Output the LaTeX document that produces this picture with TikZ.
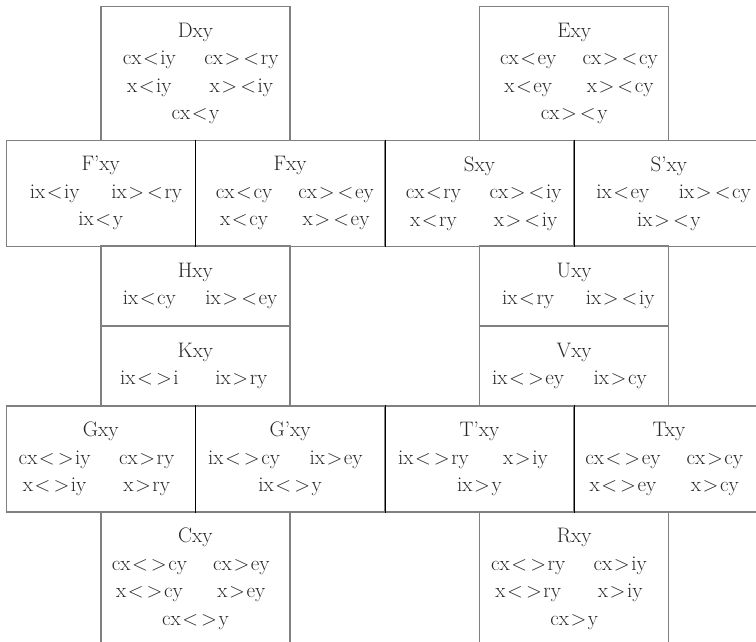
\documentclass[tikz,border=0pt]{standalone}
\usepackage{tikz}
\definecolor{rulegray}{RGB}{128,128,128}
\definecolor{inkcol}{RGB}{40,40,40}
\newcommand{\lsym}{\makebox[0.9em]{$<$}}
\newcommand{\gsym}{\makebox[0.9em]{$>$}}
\newcommand{\pairline}[2]{\makebox[92pt]{#1}\makebox[92pt]{#2}}
\tikzset{
  rel cell/.style={rectangle,draw=rulegray,line width=1.2pt,minimum width=189pt,inner sep=0pt,align=center,text=inkcol,font=\fontsize{21}{27.5}\selectfont},
  tall cell/.style={rel cell,minimum height=134pt},
  row cell/.style={rel cell,minimum height=106pt},
  half cell/.style={rel cell,minimum height=80pt},
  cell rule/.style={draw=black,line width=0.9pt}
}

\begin{document}
\begin{tikzpicture}[x=1pt,y=-1pt]
  \useasboundingbox (0,0) rectangle (756,641);
  % top pair
  \node[tall cell] (D) at (195.4,73.3) {Dxy\\ \pairline{cx\lsym iy}{cx\gsym\lsym ry}\\ \pairline{x\lsym iy}{x\gsym\lsym iy}\\ cx\lsym y};
  \node[tall cell] (E) at (574.2,73.3) {Exy\\ \pairline{cx\lsym ey}{cx\gsym\lsym cy}\\ \pairline{x\lsym ey}{x\gsym\lsym cy}\\ cx\gsym\lsym y};
  % first row
  \node[row cell] (Fp) at (100.7,193.3) {F'xy\\ \pairline{ix\lsym iy}{ix\gsym\lsym ry}\\ ix\lsym y};
  \node[row cell] (F) at (290.1,193.3) {Fxy\\ \pairline{cx\lsym cy}{cx\gsym\lsym ey}\\ \pairline{x\lsym cy}{x\gsym\lsym ey}};
  \node[row cell] (S) at (479.5,193.3) {Sxy\\ \pairline{cx\lsym ry}{cx\gsym\lsym iy}\\ \pairline{x\lsym ry}{x\gsym\lsym iy}};
  \node[row cell] (Sp) at (668.9,193.3) {S'xy\\ \pairline{ix\lsym ey}{ix\gsym\lsym cy}\\ ix\gsym\lsym y};
  % middle pairs
  \node[half cell] (H) at (195.4,286) {Hxy\\ \pairline{ix\lsym cy}{ix\gsym\lsym ey}};
  \node[half cell] (K) at (195.4,366) {Kxy\\ \pairline{ix\lsym\gsym i}{ix\gsym ry}};
  \node[half cell] (U) at (574.2,286) {Uxy\\ \pairline{ix\lsym ry}{ix\gsym\lsym iy}};
  \node[half cell] (V) at (574.2,366) {Vxy\\ \pairline{ix\lsym\gsym ey}{ix\gsym cy}};
  % second row
  \node[row cell] (G) at (100.7,459) {Gxy\\ \pairline{cx\lsym\gsym iy}{cx\gsym ry}\\ \pairline{x\lsym\gsym iy}{x\gsym ry}};
  \node[row cell] (Gp) at (290.1,459) {G'xy\\ \pairline{ix\lsym\gsym cy}{ix\gsym ey}\\ ix\lsym\gsym y};
  \node[row cell] (Tp) at (479.5,459) {T'xy\\ \pairline{ix\lsym\gsym ry}{x\gsym iy}\\ ix\gsym y};
  \node[row cell] (T) at (668.9,459) {Txy\\ \pairline{cx\lsym\gsym ey}{cx\gsym cy}\\ \pairline{x\lsym\gsym ey}{x\gsym cy}};
  % bottom pair
  \node[tall cell] (C) at (195.4,579) {Cxy\\ \pairline{cx\lsym\gsym cy}{cx\gsym ey}\\ \pairline{x\lsym\gsym cy}{x\gsym ey}\\ cx\lsym\gsym y};
  \node[tall cell] (R) at (574.2,579) {Rxy\\ \pairline{cx\lsym\gsym ry}{cx\gsym iy}\\ \pairline{x\lsym\gsym ry}{x\gsym iy}\\ cx\gsym y};
  % dark rules between row cells
  \foreach \c in {Fp,F,S,G,Gp,Tp}{\draw[cell rule] (\c.north east) -- (\c.south east);}
\end{tikzpicture}
\end{document}
